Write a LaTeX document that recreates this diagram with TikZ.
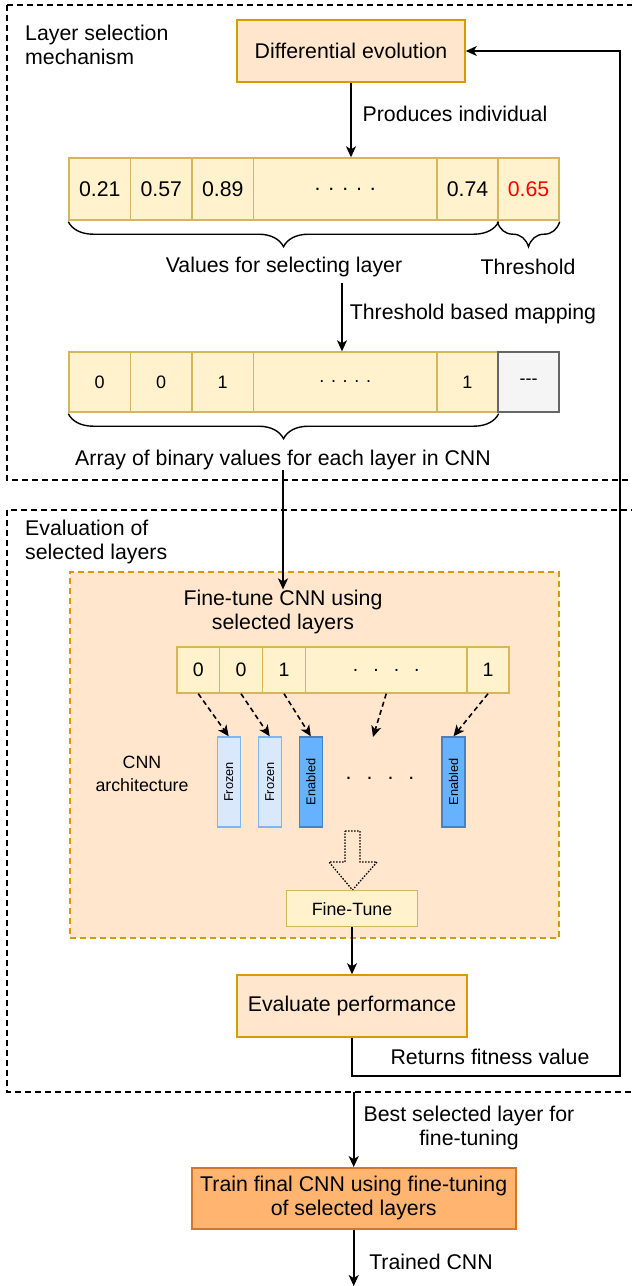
\documentclass[tikz,border=0pt]{standalone}
\usepackage{fontspec}
\setmainfont{Liberation Sans}
\usepackage{xcolor}
\usepackage{tikz}
\usetikzlibrary{arrows.meta,decorations.pathreplacing}
\definecolor{procfill}{HTML}{FFE6CC}
\definecolor{procline}{HTML}{D79B00}
\definecolor{cellfill}{HTML}{FFF2CC}
\definecolor{cellline}{HTML}{D6B656}
\definecolor{greyfill}{HTML}{F5F5F5}
\definecolor{greyline}{HTML}{666666}
\definecolor{frozfill}{HTML}{DAE8FC}
\definecolor{frozline}{HTML}{7EB6F2}
\definecolor{enabfill}{HTML}{66B2FF}
\definecolor{enabline}{HTML}{4A82C0}
\definecolor{trainfill}{HTML}{FFB570}
\definecolor{trainline}{HTML}{D9742B}
\definecolor{thr}{HTML}{FF0000}
\tikzset{
  lab/.style={text=black, font=\fontsize{21.3}{24}\selectfont, inner sep=0pt},
  labm/.style={text=black, font=\fontsize{19.5}{22}\selectfont, inner sep=0pt},
  labs/.style={text=black, font=\fontsize{17.8}{23}\selectfont, inner sep=0pt},
  labn/.style={text=black, font=\fontsize{18}{20}\selectfont, inner sep=0pt},
  proc/.style={lab, draw=procline, fill=procfill, line width=1.6pt, minimum height=62pt},
  final/.style={lab, draw=trainline, fill=trainfill, line width=1.6pt, minimum height=61pt, align=center},
  cell/.style={lab, draw=cellline, fill=cellfill, line width=1.4pt, minimum height=62pt},
  greycell/.style={labn, draw=greyline, fill=greyfill, line width=1.4pt, minimum height=60pt},
  frozen/.style={draw=frozline, fill=frozfill, line width=1.4pt, minimum width=23pt, minimum height=90pt, inner sep=0pt, font=\fontsize{12.8}{14}\selectfont},
  enabled/.style={frozen, draw=enabline, fill=enabfill},
  frame/.style={draw=black, line width=1.3pt, dash pattern=on 6pt off 4pt},
  ftbox/.style={draw=procline, fill=procfill, line width=1.4pt, dash pattern=on 6pt off 4pt},
  conn/.style={draw=black, line width=1.6pt, -{Stealth[length=11pt,width=10pt,inset=3pt]}},
  map/.style={conn, dash pattern=on 5pt off 3.5pt},
  hollow/.style={draw=black, line width=1.3pt, dash pattern=on 1.5pt off 1.5pt, line join=miter},
  brc/.style={draw=black, line width=1.4pt, decorate, decoration={brace, mirror, amplitude=25pt, raise=1pt}},
}
\begin{document}
\begin{tikzpicture}[x=1pt,y=-1pt]
  \useasboundingbox (0,0) rectangle (632,1286);
  \clip (0,0) rectangle (632,1286);
  \fill[white] (0,0) rectangle (632,1286);

  \draw[frame] (7,5) rectangle (660,480);
  \draw[frame] (7,510) rectangle (660,1092);
  \node[lab, anchor=west, align=left] (selT) at (25,45) {Layer selection\\mechanism};
  \node[lab, anchor=west, align=left] (evalT) at (25,542) {Evaluation of\\selected layers};

  \node[proc, minimum width=228pt] (de) at (351,51) {Differential evolution};

  \foreach \l/\r/\t [count=\i] in {69/130.5/0.21,130.5/192/0.57,192/253.5/0.89,253.5/437/. . . . .,437/498/0.74}
    \node[cell, minimum width={(\r-\l)*1pt}] (v\i) at ({(\l+\r)/2},189) {\t};
  \node[cell, minimum width=61pt, text=thr] (v6) at (528.5,189) {0.65};
  \draw[conn] (de.south) -- (v4.north -| de.south);
  \node[lab] (prodL) at (455,114) {Produces individual};

  \draw[brc] (v1.south west) -- (v5.south east);
  \draw[brc] (v6.south west) -- (v6.south east);
  \node[lab] (vlab) at (284,267) {Values for selecting layer};
  \node[lab] (tlab) at (528,267) {Threshold};

  \foreach \l/\r/\t [count=\i] in {69/130.5/0,130.5/192/0,192/253.5/1,253.5/437/. . . . .,437/498/1}
    \node[cell, labn, minimum width={(\r-\l)*1pt}, minimum height=60pt] (b\i) at ({(\l+\r)/2},382) {\t};
  \node[greycell, minimum width=61pt] (b6) at (528.5,382) {-{}-{}-};
  \coordinate (mapS) at (342,283);
  \draw[conn] (mapS) -- (mapS |- b4.north);
  \node[lab] (mapL) at (473,314) {Threshold based mapping};

  \draw[brc] (b1.south west) -- (b5.south east);
  \node[lab] (alab) at (283,460) {Array of binary values for each layer in CNN};

  \node[ftbox, minimum width=489pt, minimum height=366pt] (ft) at (314.5,755) {};
  \node[lab, align=center] (ftlab) at (283,611.5) {Fine-tune CNN using\\selected layers};
  \draw[conn] (alab.south) -- (ftlab.north);

  \foreach \l/\r/\t [count=\i] in {177/219.5/0,219.5/262.5/0,262.5/305.5/1,305.5/467/{.\hspace{15pt}.\hspace{15pt}.\hspace{15pt}.},467/509/1}
    \node[cell, labm, minimum width={(\r-\l)*1pt}, minimum height=46pt] (c\i) at ({(\l+\r)/2},670) {\t};

  \foreach \x/\t/\s [count=\i] in {228.7/Frozen/frozen,269.7/Frozen/frozen,310.8/Enabled/enabled,453.5/Enabled/enabled}
    \node[\s] (l\i) at (\x,782) {\rotatebox{90}{\t}};
  \node[lab] (ldots) at (380,778) {.\hspace{15pt}.\hspace{15pt}.\hspace{15pt}.};
  \node[labs, align=center] (archL) at (142,773.5) {CNN\\architecture};

  \foreach \i in {1,2,3}
    \draw[map] (c\i.south) -- (l\i.north);
  \draw[map] (c5.south) -- (l4.north);
  \coordinate (gapT) at (373,737);
  \draw[map] (c4.south) -- (gapT);

  \draw[hollow] (345,831) -- (360,831) -- (360,862) -- (377,862) -- (352.5,890) -- (329,862) -- (345,862) -- cycle;
  \node[cell, labs, minimum width=130.6pt, minimum height=36pt] (tune) at (352,908.7) {Fine-Tune};

  \node[proc, minimum width=230pt] (eval) at (352,1006) {Evaluate performance};
  \draw[conn] (tune.south) -- (eval.north);
  \coordinate (fbR) at (620,1076);
  \draw[conn] (eval.south) |- (fbR) |- (de.east);
  \node[lab] (fitL) at (490,1057) {Returns fitness value};

  \node[final, minimum width=324pt] (train) at (353.7,1198.4) {Train final CNN using fine-tuning\\of selected layers};
  \coordinate (bestS) at (353.7,1092);
  \draw[conn] (bestS) -- (train.north);
  \node[lab, align=center] (bestL) at (469,1128) {Best selected layer for\\fine-tuning};
  \coordinate (outE) at (353.7,1286);
  \draw[conn] (train.south) -- (outE);
  \node[lab] (trainedL) at (431,1262) {Trained CNN};
\end{tikzpicture}
\end{document}
